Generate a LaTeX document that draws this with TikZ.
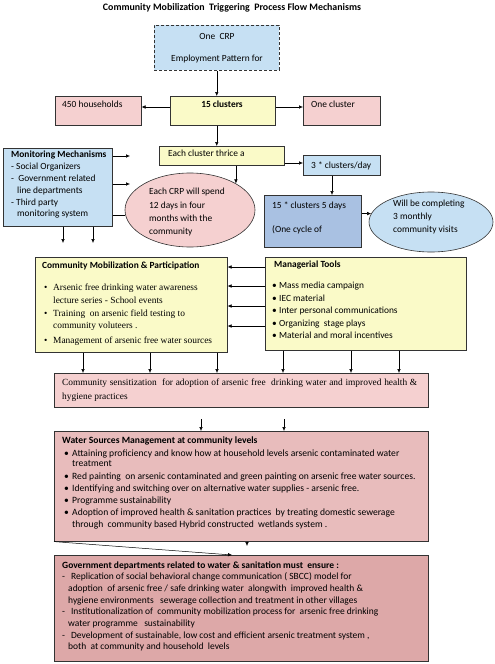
\documentclass[tikz,border=0pt]{standalone}
\usepackage{fontspec}
\setmainfont{Carlito}
\newfontfamily\tnr{Liberation Serif}
\usetikzlibrary{arrows.meta,shapes.geometric}
\definecolor{lblue}{HTML}{C6E0F3}
\definecolor{lyellow}{HTML}{FAFAC8}
\definecolor{lpink}{HTML}{F5D0D0}
\definecolor{mpink}{HTML}{E8BCBC}
\definecolor{dpink}{HTML}{DDA8A8}
\definecolor{mblue}{HTML}{A9C1E2}
\definecolor{edge}{HTML}{333333}
\begin{document}
\begin{tikzpicture}[x=1pt,y=-1pt,
  box/.style={draw=edge, line width=0.6pt, inner sep=0pt, anchor=north west},
  oval/.style={ellipse, draw=edge, line width=0.6pt, inner sep=0pt},
  txt/.style={inner sep=0pt, anchor=north west, align=left, font=\fontsize{9.4}{11.8}\selectfont},
  arr/.style={-{Latex[length=4pt,width=3.5pt]}, line width=0.5pt, draw=black},
  ln/.style={line width=0.5pt, draw=black}]
\useasboundingbox (0,0) rectangle (495,664);
\fill[white] (0,0) rectangle (495,664);

% title
\node[inner sep=0pt, font=\bfseries\fontsize{9.9}{11}\selectfont] (title) at (232,7.5) {Community Mobilization\ \ Triggering\ \ Process Flow Mechanisms};

% boxes
\node[box, fill=lblue, densely dashed, minimum width=125pt, minimum height=45pt] (crp1) at (154,25) {};
\node[box, fill=lpink, minimum width=86pt, minimum height=29pt] (hh) at (55,96) {};
\node[box, fill=lyellow, minimum width=105pt, minimum height=29pt] (cl15) at (170,96) {};
\node[box, fill=lpink, minimum width=77pt, minimum height=29pt] (onecl) at (303,96) {};
\node[box, fill=lblue, minimum width=109pt, minimum height=78pt] (mon) at (3,148) {};
\node[box, fill=lyellow, minimum width=125pt, minimum height=19pt] (each) at (159,146) {};
\node[box, fill=lblue, minimum width=77pt, minimum height=20pt] (cpd) at (303,155) {};
\node[oval, fill=lpink, minimum width=130pt, minimum height=74pt] (crp) at (190,210) {};
\node[box, fill=mblue, minimum width=97pt, minimum height=52pt] (c15) at (264,195) {};
\node[oval, fill=lblue, minimum width=124pt, minimum height=60pt] (will) at (431,222) {};
\node[box, fill=lyellow, minimum width=192pt, minimum height=95pt] (cm) at (35,257) {};
\node[box, fill=lyellow, minimum width=201pt, minimum height=93pt] (mt) at (265,257) {};
\node[box, fill=lpink, minimum width=374pt, minimum height=34pt] (sens) at (54,373) {};
\node[box, fill=mpink, minimum width=374pt, minimum height=110pt] (water) at (54,431) {};
\node[box, fill=dpink, minimum width=374pt, minimum height=106pt] (gov) at (54,555) {};

% texts
\node[inner sep=0pt, align=center, font=\fontsize{9.4}{22}\selectfont] (tcrp1) at (217,48) {One\ \ CRP\\Employment Pattern for};
\node[txt] (thh) at (62,101.2) {450 households};
\node[txt, anchor=north, font=\bfseries\fontsize{9.4}{11.8}\selectfont] (tcl15) at (222,101.2) {15 clusters};
\node[txt] (tonecl) at (311,101.2) {One cluster};
\node[txt] (tmon) at (11,151.2) {\textbf{Monitoring Mechanisms}\\
- Social Organizers\\
- \ Government related\\
\hspace*{6pt}line departments\\
- Third party\\
\hspace*{6pt}monitoring system};
\node[txt] (teach) at (168,150.2) {Each cluster thrice a};
\node[txt] (tcpd) at (311,161.2) {3 * clusters/day};
\node[txt, font=\fontsize{9.4}{13.3}\selectfont] (tcrp) at (149,188.2) {Each CRP will spend\\12 days in four\\months with the\\community};
\node[txt, font=\fontsize{9.4}{24}\selectfont] (tc15) at (272,201.2) {15 * clusters 5 days\\(One cycle of};
\node[txt, font=\fontsize{9.4}{13}\selectfont] (twill) at (393,200.2) {Will be completing\\3 monthly\\community visits};

\node[txt, font=\bfseries\fontsize{9.4}{11.8}\selectfont] (tcmh) at (42,261.2) {Community Mobilization \& Participation};
\node[txt, font=\tnr\fontsize{9.4}{12.5}\selectfont] (tcm) at (44,283.7) {\makebox[9pt][l]{\textbullet}Arsenic free drinking water awareness\\
\hspace*{9pt}lecture series - School events\\[0.5pt]
\makebox[9pt][l]{\textbullet}Training\ \ on arsenic field testing to\\
\hspace*{9pt}community voluteers .\\[2pt]
\makebox[9pt][l]{\textbullet}Management of arsenic free water sources};

\node[txt, font=\bfseries\fontsize{9.4}{11.8}\selectfont] (tmth) at (274,261.2) {Managerial Tools};
\node[txt, font=\fontsize{9.4}{12.5}\selectfont] (tmt) at (272,282.2) {\makebox[7pt][l]{\textbullet}Mass media campaign\\
\makebox[7pt][l]{\textbullet}IEC material\\
\makebox[7pt][l]{\textbullet}Inter personal communications\\
\makebox[7pt][l]{\textbullet}Organizing\ \ stage plays\\
\makebox[7pt][l]{\textbullet}Material and moral incentives};

\node[txt, align=justify, text width=355pt, font=\tnr\fontsize{9.4}{14}\selectfont] (tsens) at (62,378.7) {Community sensitization\ \ for adoption of arsenic free\ \ drinking water and improved health \&\linebreak hygiene practices};

\node[txt, font=\fontsize{9.6}{12}\selectfont] (twater) at (62,436.2) {\textbf{Water Sources Management at community levels}\\[1pt]
\hspace*{2pt}\makebox[8pt][l]{\textbullet}Attaining proficiency and know how at household levels arsenic contaminated water\\[-2pt]
\hspace*{10pt}treatment\\[1pt]
\hspace*{2pt}\makebox[8pt][l]{\textbullet}Red painting\ \ on arsenic contaminated and green painting on arsenic free water sources.\\
\hspace*{2pt}\makebox[8pt][l]{\textbullet}Identifying and switching over on alternative water supplies - arsenic free.\\
\hspace*{2pt}\makebox[8pt][l]{\textbullet}Programme sustainability\\
\hspace*{2pt}\makebox[8pt][l]{\textbullet}Adoption of improved health \& sanitation practices\ \ by treating domestic sewerage\\
\hspace*{10pt}through\ \ community based Hybrid constructed\ \ wetlands system .};

\node[txt, font=\fontsize{9.5}{11.7}\selectfont] (tgov) at (62,561.2) {\textbf{Government departments related to water \& sanitation must\ \ ensure :}\\
-\hspace{6pt}Replication of social behavioral change communication ( SBCC) model for\\
\hspace*{6pt}adoption\ \ of arsenic free / safe drinking water\ \ alongwith\ \ improved health \&\\
\hspace*{6pt}hygiene environments\ \ \ sewerage collection and treatment in other villages\\
-\hspace{6pt}Institutionalization of\ \ community mobilization process for\ \ arsenic free drinking\\
\hspace*{6pt}water programme\ \ \ sustainability\\
-\hspace{6pt}Development of sustainable, low cost and efficient arsenic treatment system ,\\
\hspace*{6pt}both\ \ at community and household\ \ levels};

% helper coordinates
\coordinate (r1) at (0,107);
\coordinate (m1) at (130,156);
\coordinate (m2) at (130,184);
\coordinate (d1) at (63,243);
\coordinate (d2) at (93,243);
\coordinate (e3) at (0,163);
\coordinate (k1) at (332,0);
\coordinate (w1) at (201,419);
\coordinate (w2) at (284,419);
\coordinate (g1) at (232,0);
\coordinate (s1) at (247,546);

% connectors
\draw[arr] (crp1.south) -- (crp1.south |- cl15.north);
\draw[arr] (cl15.west |- r1) -- (hh.east |- r1);
\draw[arr] (cl15.east |- r1) -- (onecl.west |- r1);
\draw[arr] (crp1.south |- cl15.south) -- (crp1.south |- each.north);
\draw[arr] (mon.east |- m1) -- (m1);
\draw[arr] (mon.east |- m2) -- (m2);
\draw[ln] (mon.east |- crp.185) -- (crp.185);
\draw[arr] (mon.south -| d1) -- (d1);
\draw[arr] (mon.south -| d2) -- (d2);
\draw[arr] (each.east |- e3) -- (cpd.west |- e3);
\draw[arr] (crp.30 |- each.south) -- (crp.30);
\draw[arr] (cpd.south -| k1) -- (c15.north -| k1);
\draw[arr] (c15.east |- will.172) -- (will.172);
\foreach \yy in {267,286,306,326} \draw[arr] (mt.west |- 0,\yy) -- (cm.east |- 0,\yy);
\foreach \xx in {83,150,217} \draw[arr] (cm.south -| \xx,0) -- (sens.north -| \xx,0);
\foreach \xx in {283,351,399} \draw[arr] (mt.south -| \xx,0) -- (sens.north -| \xx,0);
\draw[arr] (w1) -- (water.north -| w1);
\draw[arr] (w2) -- (water.north -| w2);
\draw[arr] (water.south west) -- (gov.north -| g1);
\draw[arr] (water.south -| s1) -- (s1);
\end{tikzpicture}
\end{document}
